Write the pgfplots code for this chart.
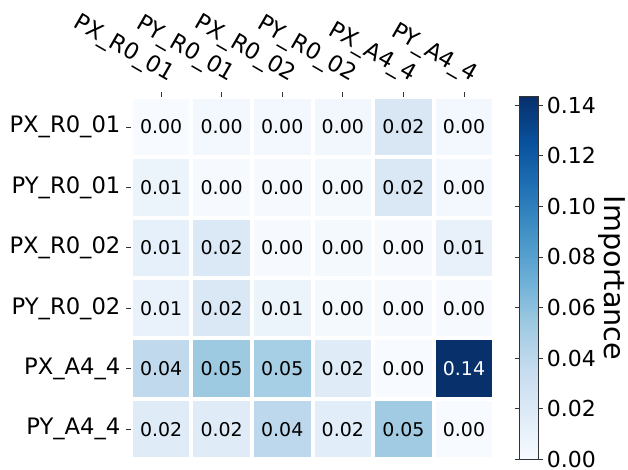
\documentclass[border=0pt]{standalone}
\usepackage{pgfplots}
\usepackage{pgfplotstable}
\pgfplotsset{compat=1.18}
\usepackage{fontspec}
\setmainfont{DejaVu Sans}

\pgfplotstableread{
x y c
0 0 0.017
1 0 0.017
2 0 0.040
3 0 0.016
4 0 0.053
5 0 0.000
0 1 0.038
1 1 0.054
2 1 0.050
3 1 0.017
4 1 0.000
5 1 0.1433
0 2 0.010
1 2 0.021
2 2 0.008
3 2 0.002
4 2 0.001
5 2 0.001
0 3 0.012
1 3 0.020
2 3 0.001
3 3 0.002
4 3 0.001
5 3 0.011
0 4 0.008
1 4 0.001
2 4 0.001
3 4 0.002
4 4 0.021
5 4 0.003
0 5 0.000
1 5 0.003
2 5 0.003
3 5 0.004
4 5 0.022
5 5 0.003
}\heatdata

\definecolor{tickgray}{HTML}{333333}

\begin{document}
\begin{tikzpicture}
\path[use as bounding box] (0,0) rectangle (471pt,352.5pt);
\begin{axis}[
  at={(98.1pt,8pt)}, anchor=south west,
  scale only axis, width=272.6pt, height=271.9pt,
  xmin=-0.5, xmax=5.5, ymin=-0.5, ymax=5.5,
  enlargelimits=false,
  axis line style={draw=none},
  axis on top,
  colormap={blues}{rgb255=(247,251,255) rgb255=(222,235,247) rgb255=(198,219,239) rgb255=(158,202,225) rgb255=(107,174,214) rgb255=(66,146,198) rgb255=(33,113,181) rgb255=(8,81,156) rgb255=(8,48,107)},
  point meta min=0, point meta max=0.1433,
  xtick={0,1,2,3,4,5},
  ytick={0,1,2,3,4,5},
  xticklabels={PX\_R0\_01,PY\_R0\_01,PX\_R0\_02,PY\_R0\_02,PX\_A4\_4,PY\_A4\_4},
  yticklabels={PY\_A4\_4,PX\_A4\_4,PY\_R0\_02,PX\_R0\_02,PY\_R0\_01,PX\_R0\_01},
  xtick pos=right, xticklabel pos=right,
  ytick pos=left,
  tick align=outside,
  major tick length=3.4pt,
  minor tick length=0pt,
  every tick/.style={tickgray, line width=0.6pt},
  minor xtick={-0.5,0.5,1.5,2.5,3.5,4.5,5.5},
  minor ytick={-0.5,0.5,1.5,2.5,3.5,4.5,5.5},
  xminorgrids, yminorgrids,
  minor grid style={white, line width=3pt},
  xticklabel style={font=\fontsize{17}{19}\selectfont, xshift=6pt, rotate=-30, anchor=base east, inner sep=0pt},
  xticklabel shift=7.5pt,
  yticklabel style={font=\fontsize{17}{19}\selectfont, inner sep=0pt},
  yticklabel shift=4.2pt,
  colorbar,
  colorbar style={
    at={(parent axis.north east)}, anchor=north west, xshift=10.3pt,
    width=13.9pt,
    ytick={0,0.02,0.04,0.06,0.08,0.1,0.12,0.14},
    yticklabel style={font=\fontsize{16.5}{18}\selectfont, inner sep=0pt,
      /pgf/number format/.cd, fixed, fixed zerofill, precision=2, assume math mode=true},
    yticklabel shift=3pt,
    tick align=outside,
    major tick length=3.5pt,
    every tick/.style={tickgray, line width=0.6pt},
    axis line style={tickgray, line width=0.6pt},
    ylabel={Importance},
    every axis y label/.style={at={(axis description cs:5.0,0.5)}, rotate=-90, anchor=center, font=\fontsize{21.5}{24}\selectfont},
  },
]
\addplot[matrix plot*, mesh/cols=6, point meta=explicit] table[x=x, y=y, meta=c] {\heatdata};
\addplot[draw=none, mark=none, point meta=explicit,
  nodes near coords={\pgfmathfloattofixed{\pgfplotspointmeta}\ifdim\pgfmathresult pt>0.1pt\color{white}\fi\pgfmathprintnumber[fixed,fixed zerofill,precision=2,assume math mode=true]{\pgfplotspointmeta}},
  nodes near coords align=center,
  every node near coord/.append style={font=\fontsize{14.2}{16}\selectfont, text=black, anchor=center, inner sep=0pt},
] table[x=x, y=y, meta=c] {\heatdata};
\end{axis}
\end{tikzpicture}
\end{document}
